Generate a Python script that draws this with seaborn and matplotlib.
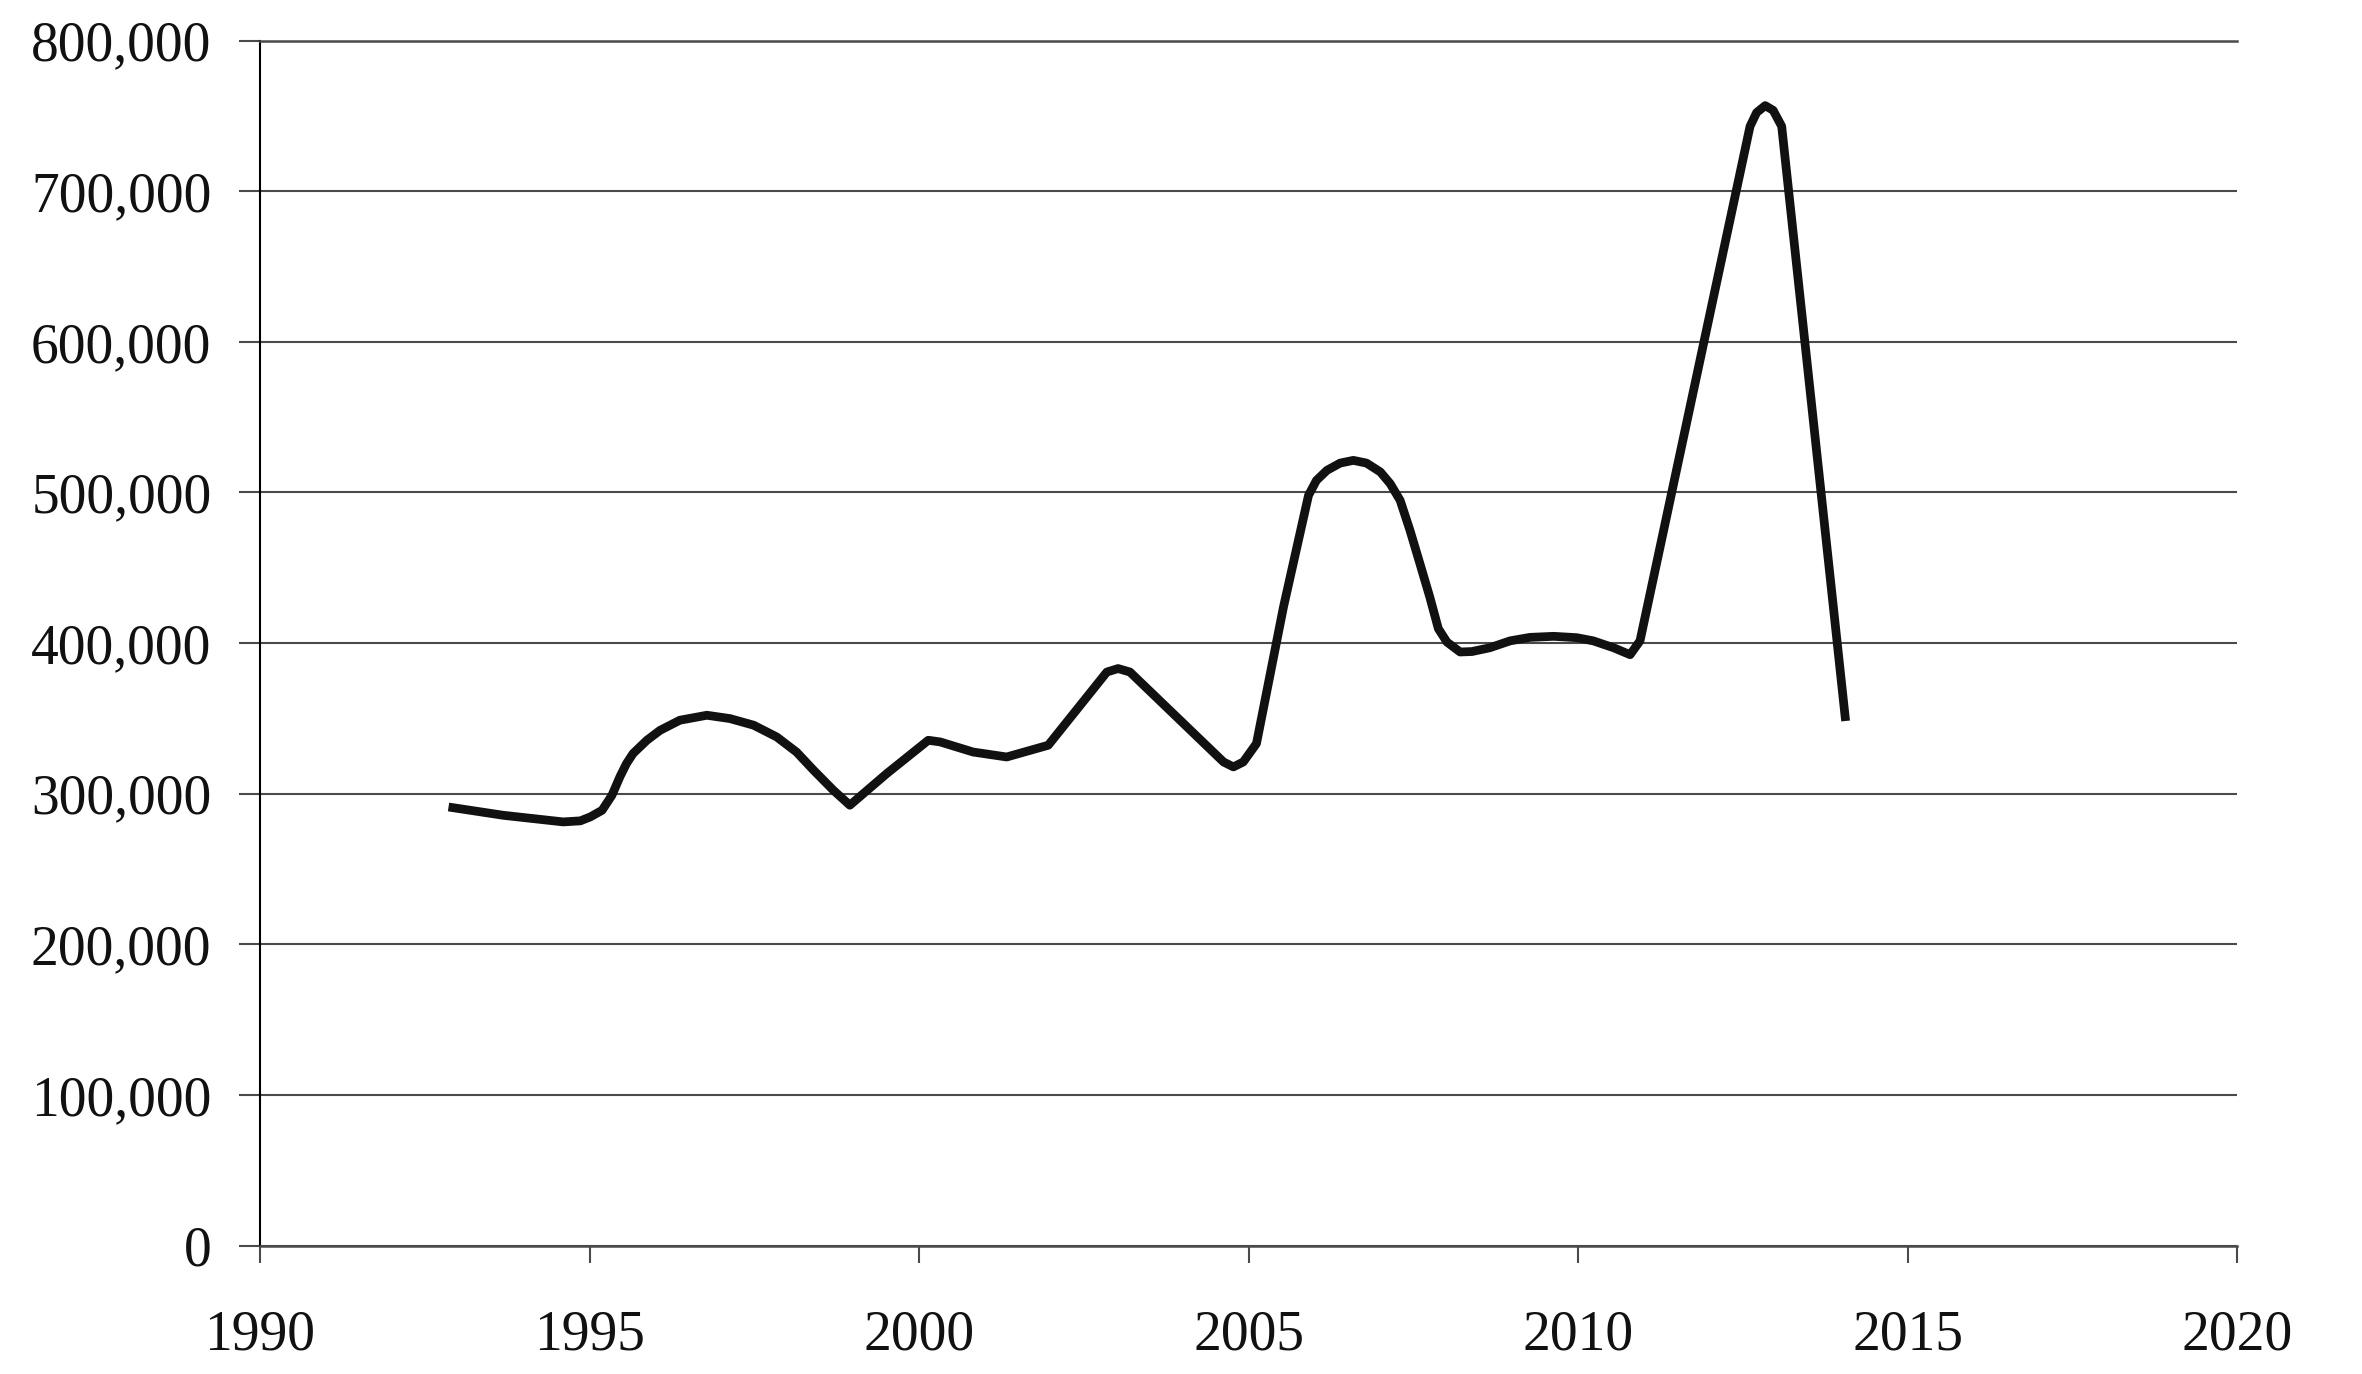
import matplotlib
matplotlib.use("Agg")
import matplotlib.pyplot as plt
import matplotlib.ticker as mticker
import seaborn as sns
import pandas as pd

# values (year, value)
years = [1992.86, 1993.69, 1994.60, 1994.86, 1995.01, 1995.19, 1995.34, 1995.46,
         1995.56, 1995.66, 1995.87, 1996.07, 1996.37, 1996.78, 1997.13, 1997.49,
         1997.84, 1998.14, 1998.40, 1998.70, 1998.95, 1999.51, 2000.14, 2000.32,
         2000.82, 2001.33, 2001.96, 2002.85, 2003.02, 2003.20, 2004.62, 2004.77,
         2004.92, 2005.12, 2005.53, 2005.91, 2006.03, 2006.19, 2006.39, 2006.59,
         2006.79, 2007.00, 2007.15, 2007.30, 2007.45, 2007.60, 2007.75, 2007.88,
         2008.01, 2008.21, 2008.39, 2008.66, 2008.97, 2009.27, 2009.63, 2009.98,
         2010.23, 2010.54, 2010.79, 2010.94, 2012.61, 2012.71, 2012.84, 2012.96,
         2013.09, 2014.06]
values = [291200, 285700, 281300, 282000, 284600, 289000, 299000, 311200,
          320000, 326700, 335500, 342100, 348800, 352100, 349900, 345500,
          337700, 327700, 315600, 302300, 292400, 313400, 335500, 334400,
          327700, 324400, 332200, 380800, 383100, 380800, 321100, 317800,
          321100, 333300, 424000, 498100, 508000, 514700, 519500, 521300,
          519500, 513600, 505800, 494800, 474800, 452800, 430600, 409600,
          400700, 394100, 394400, 396900, 401500, 403800, 404500, 403600,
          401500, 396900, 392300, 401500, 743100, 752200, 756800, 753700,
          743100, 348300]

x_ticks = [1990, 1995, 2000, 2005, 2010, 2015, 2020]
y_ticks = [0, 100000, 200000, 300000, 400000, 500000, 600000, 700000, 800000]

sns.set_style("white")
plt.rcParams['font.family'] = ['Liberation Serif', 'DejaVu Serif']

grid_col = '#4a4a4a'

fig = plt.figure(figsize=(23.62, 13.74), dpi=100)
ax = fig.add_axes([0.1101, 0.0934, 0.8370, 0.8771])

df = pd.DataFrame({'year': years, 'value': values})
sns.lineplot(data=df, x='year', y='value', ax=ax, color='#111111', linewidth=6.3,
             sort=False, estimator=None, solid_capstyle='butt', solid_joinstyle='round')

ax.set_xlim(1990, 2020)
ax.set_ylim(0, 800000)
ax.set_xticks(x_ticks)
ax.set_yticks(y_ticks)
ax.yaxis.set_major_formatter(mticker.FuncFormatter(lambda v, p: f'{v:,.0f}'))
ax.set_xlabel('')
ax.set_ylabel('')

ax.yaxis.grid(True, color=grid_col, linewidth=1.5)
ax.xaxis.grid(False)

ax.spines['right'].set_visible(False)
for side in ['top', 'bottom']:
    ax.spines[side].set_color(grid_col)
    ax.spines[side].set_linewidth(1.8)
ax.spines['left'].set_color('black')
ax.spines['left'].set_linewidth(1.5)

ax.tick_params(axis='y', length=15, width=1.5, color=grid_col, pad=20, labelsize=40,
               left=True, direction='out', labelcolor='#111111')
ax.tick_params(axis='x', length=12, width=1.5, color=grid_col, pad=34, labelsize=40,
               bottom=True, direction='out', labelcolor='#111111')

fig.savefig('out.png', dpi=100)
